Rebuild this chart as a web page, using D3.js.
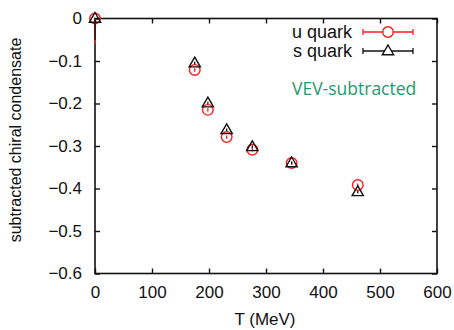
<!DOCTYPE html>
<html>
<head>
<meta charset="utf-8">
<script src="https://cdn.jsdelivr.net/npm/d3@7"></script>
<style>
body { margin: 0; background: #fff; }
text { font-family: "Liberation Sans", Arial, sans-serif; fill: #111; }
</style>
</head>
<body>
<div id="container"></div>
<script>
// size
let w = 454, h = 330;
let m = { left: 95, right: 17, top: 18.5, bottom: 56.5 };

// data
const tempU = [0, 175, 198, 231, 276, 345, 461];
const condU = [0, -0.121, -0.215, -0.279, -0.309, -0.340, -0.392];
const errU = [0.06, 0.004, 0.004, 0.004, 0.004, 0.004, 0.004];
const tempS = [0, 175, 198, 231, 276, 345, 461];
const condS = [0, -0.105, -0.199, -0.262, -0.302, -0.340, -0.408];
const errS = [0.05, 0.003, 0.003, 0.003, 0.003, 0.003, 0.003];
const xTicks = [0, 100, 200, 300, 400, 500, 600];
const yTicks = [0, -0.1, -0.2, -0.3, -0.4, -0.5, -0.6];

let svg = d3.select("#container").append("svg")
  .attr("width", w).attr("height", h);

let x = d3.scaleLinear().domain([0, 600]).range([m.left, w - m.right]);
let y = d3.scaleLinear().domain([-0.6, 0]).range([h - m.bottom, m.top]);

// axes, ticks inward on all sides
let fmt = d => d === 0 ? "0" : d3.format(".1f")(d);
svg.append("g").attr("transform", "translate(0," + (h - m.bottom) + ")")
  .call(d3.axisBottom(x).tickValues(xTicks).tickSizeInner(-5).tickSizeOuter(0).tickPadding(12))
  .call(g => g.selectAll("text").style("font-size", "17px"));
svg.append("g").attr("transform", "translate(0," + m.top + ")")
  .call(d3.axisTop(x).tickValues(xTicks).tickSizeInner(-5).tickSizeOuter(0).tickFormat(""));
svg.append("g").attr("transform", "translate(" + m.left + ",0)")
  .call(d3.axisLeft(y).tickValues(yTicks).tickFormat(fmt).tickSizeInner(-5).tickSizeOuter(0).tickPadding(13))
  .call(g => g.selectAll("text").style("font-size", "17px"));
svg.append("g").attr("transform", "translate(" + (w - m.right) + ",0)")
  .call(d3.axisRight(y).tickValues(yTicks).tickSizeInner(-5).tickSizeOuter(0).tickFormat(""));
svg.selectAll(".domain").remove();
svg.selectAll(".tick line").attr("stroke", "#111").attr("stroke-width", 1.4);
svg.append("rect")
  .attr("x", m.left).attr("y", m.top)
  .attr("width", w - m.left - m.right).attr("height", h - m.top - m.bottom)
  .attr("fill", "none").attr("stroke", "#111").attr("stroke-width", 1.6);

// labels
svg.append("text").attr("x", 265).attr("y", 325)
  .attr("text-anchor", "middle").style("font-size", "17px").text("T (MeV)");
svg.append("text").attr("transform", "translate(21,140) rotate(-90)")
  .attr("text-anchor", "middle").style("font-size", "16px").text("subtracted chiral condensate");
svg.append("text").attr("x", 292).attr("y", 95)
  .style("font-size", "17.5px").style("font-family", "'Open Sans', sans-serif")
  .style("fill", "#1f9a6e").text("VEV-subtracted");

let plot = svg.append("g");
let tri = d3.symbol().type(d3.symbolTriangle).size(55);

function series(ts, vs, es, color, marker) {
  let g = plot.append("g");
  ts.forEach((t, i) => {
    // the T=0 bar only shows below the point (top is the frame)
    let top = i === 0 ? vs[i] : vs[i] + es[i];
    g.append("line").attr("x1", x(t)).attr("x2", x(t))
      .attr("y1", y(vs[i] - es[i])).attr("y2", y(top))
      .attr("stroke", color).attr("stroke-width", 1.3);
    if (marker === "circle") {
      g.append("circle").attr("cx", x(t)).attr("cy", y(vs[i])).attr("r", 5.3)
        .attr("fill", "none").attr("stroke", color).attr("stroke-width", 1.4);
    } else {
      g.append("path").attr("d", tri)
        .attr("transform", "translate(" + x(t) + "," + (y(vs[i]) + 0.5) + ")")
        .attr("fill", "none").attr("stroke", color).attr("stroke-width", 1.4);
    }
  });
}
series(tempU, condU, errU, "#ff1a1a", "circle");
series(tempS, condS, errS, "#111", "triangle");

// legend
let leg = [["u quark", "#ff1a1a", "circle", 32], ["s quark", "#111", "triangle", 51]];
leg.forEach(l => {
  svg.append("text").attr("x", 352).attr("y", l[3] + 6)
    .attr("text-anchor", "end").style("font-size", "18px").text(l[0]);
  svg.append("line").attr("x1", 363).attr("x2", 413).attr("y1", l[3]).attr("y2", l[3])
    .attr("stroke", l[1]).attr("stroke-width", 1.3);
  [363, 413].forEach(xx => svg.append("line").attr("x1", xx).attr("x2", xx)
    .attr("y1", l[3] - 3).attr("y2", l[3] + 3).attr("stroke", l[1]).attr("stroke-width", 1.3));
  if (l[2] === "circle") {
    svg.append("circle").attr("cx", 388).attr("cy", l[3]).attr("r", 5.3)
      .attr("fill", "#fff").attr("stroke", l[1]).attr("stroke-width", 1.4);
  } else {
    svg.append("path").attr("d", tri).attr("transform", "translate(388," + (l[3] + 0.5) + ")")
      .attr("fill", "#fff").attr("stroke", l[1]).attr("stroke-width", 1.4);
  }
});
</script>
</body>
</html>
